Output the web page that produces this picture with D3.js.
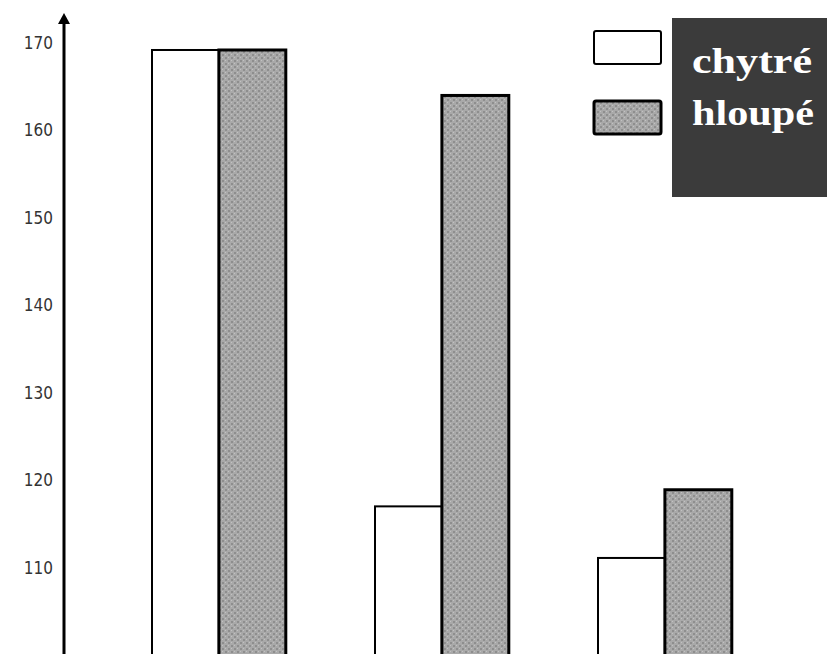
<!DOCTYPE html>
<html>
<head>
<meta charset="utf-8">
<script src="https://cdn.jsdelivr.net/npm/d3@7/dist/d3.min.js"></script>
<style>
  html, body { margin: 0; padding: 0; background: #fff; }
  svg { display: block; }
</style>
</head>
<body>
<svg id="chart" width="827" height="654"></svg>
<script>
// Groups along the x axis and the two series
const groups = ["A", "B", "C"];
const seriesNames = ["chytré", "hloupé"];
const chytre = [169.2, 117.0, 111.1];
const hloupe = [169.2, 164.0, 118.9];
const tickValues = [110, 120, 130, 140, 150, 160, 170];

const width = 827, height = 654;
const svg = d3.select("#chart");

// Pattern for the dotted grey bars
const defs = svg.append("defs");
const pat = defs.append("pattern")
  .attr("id", "dots")
  .attr("patternUnits", "userSpaceOnUse")
  .attr("width", 6).attr("height", 6);
pat.append("rect").attr("width", 6).attr("height", 6).attr("fill", "#a9a9a9");
pat.append("rect").attr("x", 0).attr("y", 0).attr("width", 2).attr("height", 2).attr("fill", "#8e8e8e");
pat.append("rect").attr("x", 3).attr("y", 3).attr("width", 2).attr("height", 2).attr("fill", "#8e8e8e");
pat.append("rect").attr("x", 3).attr("y", 0).attr("width", 1).attr("height", 1).attr("fill", "#c2c2c2");
pat.append("rect").attr("x", 0).attr("y", 3).attr("width", 1).attr("height", 1).attr("fill", "#c2c2c2");

// Scales
const x0 = d3.scaleBand().domain(groups).range([107.4, 776.4])
  .paddingInner(0.4).paddingOuter(0.2);
const x1 = d3.scaleBand().domain(seriesNames).range([0, x0.bandwidth()]);
const y = d3.scaleLinear().domain([100, 170]).range([655, 43]);

const rows = groups.map((g, i) => ({ g, vals: [
  { s: seriesNames[0], v: chytre[i] },
  { s: seriesNames[1], v: hloupe[i] }
]}));

// Bars
const gBars = svg.append("g");
rows.forEach(row => {
  gBars.selectAll(null)
    .data(row.vals)
    .enter().append("rect")
    .attr("x", d => x0(row.g) + x1(d.s))
    .attr("y", d => y(d.v))
    .attr("width", x1.bandwidth())
    .attr("height", d => y(100) - y(d.v) + 4)
    .attr("fill", d => d.s === seriesNames[0] ? "#ffffff" : "url(#dots)")
    .attr("stroke", "#000")
    .attr("stroke-width", d => d.s === seriesNames[0] ? 2 : 3);
});

// Y axis
const axis = d3.axisLeft(y).tickValues(tickValues).tickSize(0).tickPadding(11)
  .tickFormat(d3.format("d"));
const gAxis = svg.append("g").attr("transform", "translate(64,0)").call(axis);
gAxis.select(".domain").remove();
gAxis.selectAll("text")
  .attr("font-family", "DejaVu Sans Condensed, DejaVu Sans, sans-serif")
  .attr("font-size", 17)
  .attr("fill", "#333");

// Axis line with arrow
svg.append("line")
  .attr("x1", 64).attr("x2", 64)
  .attr("y1", height + 2).attr("y2", 20)
  .attr("stroke", "#000").attr("stroke-width", 3);
svg.append("path")
  .attr("d", "M64,13 L58,24 L70,24 Z")
  .attr("fill", "#000");

// Legend
const legendSwatches = svg.append("g");
legendSwatches.selectAll("rect")
  .data(seriesNames)
  .enter().append("rect")
  .attr("x", 594)
  .attr("y", (d, i) => 31 + i * 70)
  .attr("width", 67)
  .attr("height", 33)
  .attr("rx", 2)
  .attr("fill", (d, i) => i === 0 ? "#fff" : "url(#dots)")
  .attr("stroke", "#000")
  .attr("stroke-width", (d, i) => i === 0 ? 2 : 3);

svg.append("rect")
  .attr("x", 672).attr("y", 18)
  .attr("width", 155).attr("height", 179)
  .attr("fill", "#3b3b3b");

svg.append("g").selectAll("text")
  .data(seriesNames)
  .enter().append("text")
  .attr("x", 692)
  .attr("y", (d, i) => 73 + i * 52)
  .attr("font-family", "Liberation Serif, Times New Roman, serif")
  .attr("font-weight", "bold")
  .attr("font-size", 36)
  .attr("fill", "#fff")
  .attr("textLength", (d, i) => i === 0 ? 120 : 122)
  .attr("lengthAdjust", "spacingAndGlyphs")
  .text(d => d);
</script>
</body>
</html>
